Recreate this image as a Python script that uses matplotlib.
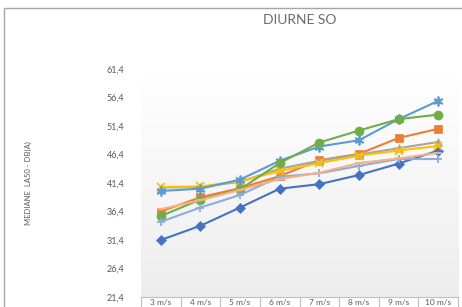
import numpy as np
import matplotlib
matplotlib.use('Agg')
import matplotlib.pyplot as plt
from matplotlib.colors import LinearSegmentedColormap

plt.rcParams['font.family'] = ['Lato', 'DejaVu Sans']

categories = ['3 m/s', '4 m/s', '5 m/s', '6 m/s', '7 m/s', '8 m/s', '9 m/s', '10 m/s']
y_ticks = [21.4, 26.4, 31.4, 36.4, 41.4, 46.4, 51.4, 56.4, 61.4]

s_diamond = [31.4, 33.9, 37.1, 40.4, 41.2, 42.8, 44.8, 47.1]
s_square = [36.4, 38.9, 40.5, 42.6, 45.4, 46.5, 49.3, 50.9]
s_triangle = [40.6, 40.7, 41.6, 43.9, 45.3, 46.4, 47.5, 48.6]
s_x = [40.7, 40.8, 41.7, 43.5, 44.9, 46.2, 47.1, 47.9]
s_star = [40.0, 40.4, 42.0, 45.3, 47.8, 48.9, 52.6, 55.8]
s_circle = [35.6, 38.5, 40.3, 44.9, 48.5, 50.6, 52.6, 53.4]
s_plus = [34.6, 37.1, 39.3, 42.5, 43.1, 44.4, 45.6, 45.6]
s_dash = [36.8, 38.4, 40.2, 42.1, 43.2, 44.9, 45.7, 46.7]

series = [
    (s_diamond, '#4472C4', 'D', 5),
    (s_square, '#ED7D31', 's', 5.5),
    (s_triangle, '#A5A5A5', '^', 5.5),
    (s_x, '#FFC000', 'x', 6),
    (s_star, '#5B9BD5', (6, 2, 0), 7),
    (s_circle, '#70AD47', 'o', 6.5),
    (s_plus, '#8FAADC', '+', 6),
    (s_dash, '#F4B183', '_', 6),
]

fig = plt.figure(figsize=(4.62, 3.07), dpi=100)
fig.patches.append(plt.Rectangle((4 / 462, -0.1), 1.2, 1.1 - 8 / 307, transform=fig.transFigure,
                                 fill=False, edgecolor='#A6A6A6', linewidth=1.0))
ax = fig.add_axes([141 / 462, 1 - 297 / 307, 317 / 462, 228 / 307])

x = np.arange(len(categories))
ax.set_xlim(-0.5, len(categories) - 0.5)
ax.set_ylim(21.4, 61.4)

# plot area gradient
cmap = LinearSegmentedColormap.from_list('bg', ['#EDEDED', '#FFFFFF'])
grad = np.linspace(0, 1, 256).reshape(-1, 1)
ax.imshow(grad, cmap=cmap, aspect='auto', origin='lower',
          extent=(-0.5, len(categories) - 0.5, 21.4, 60.0), zorder=0)

for vals, col, mk, ms in series:
    ax.plot(x, vals, color=col, marker=mk, markersize=ms, linewidth=1.5,
            markeredgewidth=1.3 if mk in ('x', '+', '_') or isinstance(mk, tuple) else 0.5,
            markeredgecolor=col, zorder=3)

for s in ['top', 'right', 'left']:
    ax.spines[s].set_visible(False)
ax.spines['bottom'].set_color('#BFBFBF')
ax.spines['bottom'].set_linewidth(0.8)

ax.set_yticks(y_ticks)
ax.set_yticklabels([f'{v:.1f}'.replace('.', ',') for v in y_ticks], fontsize=6.5, color='#595959')
ax.tick_params(axis='y', length=0, pad=12)
ax.set_xticks(x)
ax.set_xticklabels(categories, fontsize=6, color='#595959')
ax.tick_params(axis='x', length=0, pad=1.5)

# category boxes below the axis
for b in np.arange(-0.5, len(categories), 1.0):
    ax.plot([b, b], [21.4, 19.0], color='#BFBFBF', linewidth=0.8, clip_on=False)

ax.set_ylabel('MEDIANE  LA50 - DB(A)', fontsize=5.5, color='#595959', labelpad=0)
ax.yaxis.set_label_coords(-0.345, 0.5)

fig.text(300 / 462, 1 - 20 / 307, 'DIURNE SO', ha='center', va='center', fontsize=10, color='#6B6B6B')

fig.savefig('out.png', dpi=100)
